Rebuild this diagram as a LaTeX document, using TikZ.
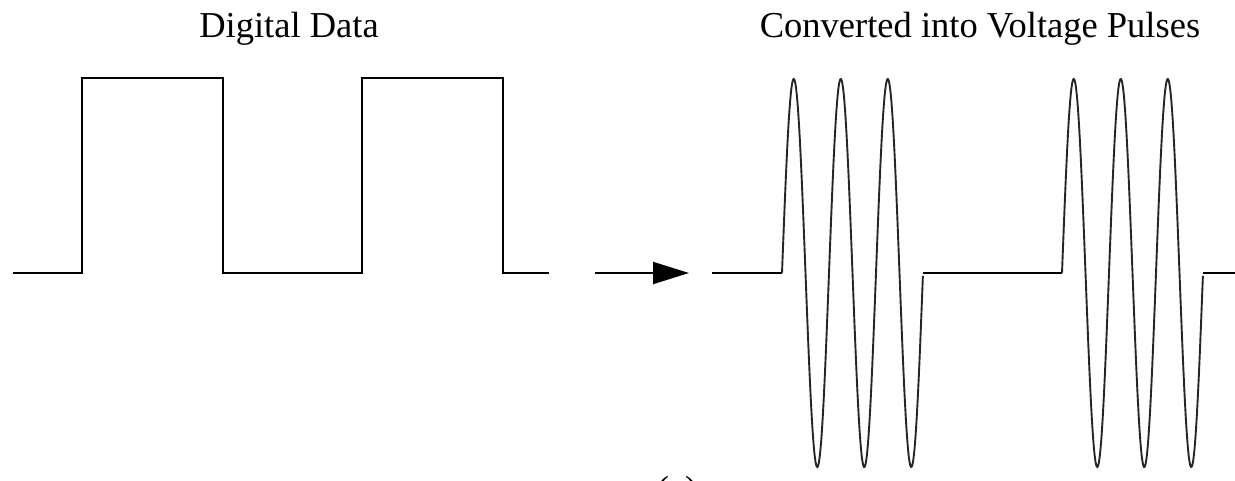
\documentclass[tikz,border=0pt]{standalone}
\usepackage{fontspec}
\setmainfont{Liberation Serif}
\usetikzlibrary{arrows.meta}
\begin{document}
\begin{tikzpicture}[x=1pt,y=-1pt,
  wave/.style={line width=2pt,line join=miter,black},
  burst/.style={line width=1.9pt,black!85},
  title/.style={font=\fontsize{36.5}{40}\selectfont,anchor=base,inner sep=0pt}]
\useasboundingbox (0,0) rectangle (1235,480);
\clip (0,0) rectangle (1235,480);
% titles
\node[title] (t1) at (289,37) {Digital Data};
\node[title] (t2) at (980,37) {Converted into Voltage Pulses};
% digital square wave
\draw[wave] (13,273) -- (82,273) -- (82,78) -- (223,78) -- (223,273)
  -- (362,273) -- (362,78) -- (503,78) -- (503,273) -- (549,273);
% arrow
\coordinate (a1) at (595,273);
\coordinate (a2) at (689,273);
\draw[line width=2pt,-{Triangle[length=36pt,width=22pt]}] (a1) -- (a2);
% modulated signal
\coordinate (b0) at (712,273);
\coordinate (b1) at (782,273);
\coordinate (b2) at (923,273);
\coordinate (b3) at (1062,273);
\coordinate (b4) at (1203,273);
\coordinate (b5) at (1235,273);
\draw[wave] (b0) -- (b1);
\draw[burst] plot[domain=0:3,samples=240,smooth] ({782+47*\x},{273-194*sin(360*\x)});
\draw[wave] (b2) -- (b3);
\draw[burst] plot[domain=0:3,samples=240,smooth] ({1062+47*\x},{273-194*sin(360*\x)});
\draw[wave] (b4) -- (b5);
% caption cut off at the bottom, as in the reference
\node[title] (cap) at (677,501) {(a)};
\end{tikzpicture}
\end{document}
